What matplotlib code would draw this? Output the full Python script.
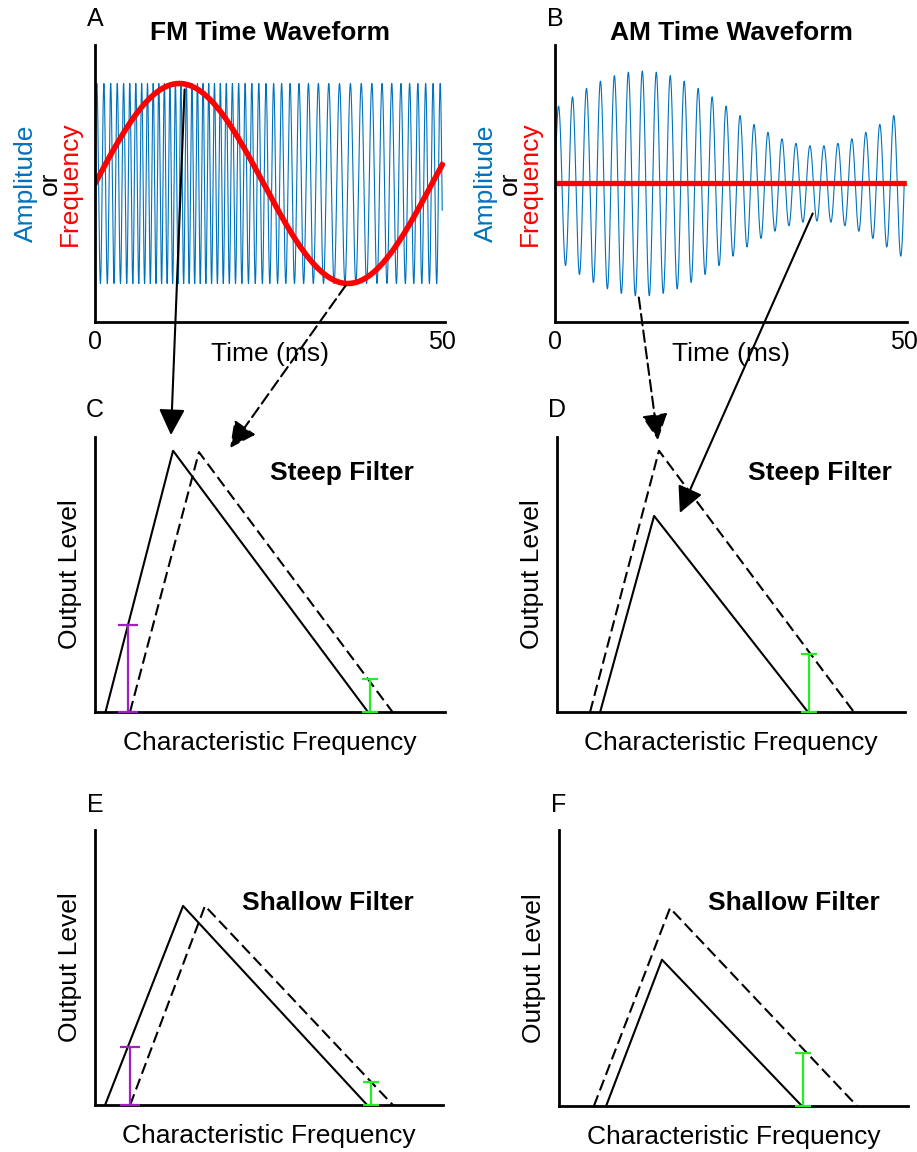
import matplotlib
matplotlib.use("Agg")
import matplotlib.pyplot as plt
import numpy as np
from matplotlib.patches import ConnectionPatch

plt.rcParams['font.family'] = ['Liberation Sans', 'DejaVu Sans']
plt.rcParams['font.size'] = 19

t_range = [0, 50]
fm_carrier_hz = 950
fm_dev_hz = 50
mod_hz = 20.6
am_carrier_hz = 500
am_mod_hz = 20
am_mean = 0.75
am_depth = 0.375

# filter triangles (x = characteristic frequency, y = output level, 0..100)
c_solid_x = [3, 22.3, 78];   c_solid_y = [0, 95, 0]
c_dash_x = [10, 29.7, 85];   c_dash_y = [0, 94.5, 0]
d_solid_x = [12.4, 27.9, 72.1]; d_solid_y = [0, 71.3, 0]
d_dash_x = [9.5, 29.3, 85.3];   d_dash_y = [0, 95, 0]
e_solid_x = [2.9, 25.3, 78.2];  e_solid_y = [0, 72.4, 0]
e_dash_x = [10.1, 31.6, 85.6];  e_dash_y = [0, 72.4, 0]
f_solid_x = [13.5, 29.5, 69.6]; f_solid_y = [0, 53, 0]
f_dash_x = [10, 31.8, 85.4];    f_dash_y = [0, 71.7, 0]

# difference bars: [x, top]
c_purple = [9.5, 31.6];  c_green = [78.6, 12]
d_green = [72.4, 21.1]
e_purple = [10.1, 21];   e_green = [79.3, 8.4]
f_green = [69.9, 19.2]

# arrows: (start t, start y) in waveform panel -> (x, y) in filter panel
arrow_from = [(12.9, 0.94), (36.1, -1.02), (12.0, -1.14), (36.9, -0.30)]
arrow_to = [(21.7, 100.7), (38.6, 96), (29.0, 98.9), (35.3, 72.4)]
arrow_dashed = [False, True, True, False]

BLUE = '#0072BD'
RED = '#FF0000'
PURPLE = '#A020C0'
GREEN = '#22EE22'
DASH = (0, (5.5, 2.5))

W, H = 917, 1152
fig = plt.figure(figsize=(W / 100, H / 100), dpi=100)


def add_ax(l, t, r, b):
    ax = fig.add_axes([l / W, 1 - b / H, (r - l) / W, (b - t) / H])
    ax.spines['top'].set_visible(False)
    ax.spines['right'].set_visible(False)
    ax.spines['left'].set_linewidth(2)
    ax.spines['bottom'].set_linewidth(2)
    return ax


def letter(ax, s, off=13.5):
    ax.annotate(s, xy=(0, 1), xycoords='axes fraction', xytext=(0, off),
                textcoords='offset points', ha='center', va='baseline', fontsize=18)


def wave_axes(ax, title, lab):
    ax.set_xlim(0, 50.4)
    ax.set_ylim(-1.385, 1.385)
    ax.set_xticks(t_range)
    ax.set_yticks([])
    ax.tick_params(axis='x', length=0, pad=6, labelsize=18)
    ax.set_xlabel('Time (ms)')
    ax.xaxis.set_label_coords(0.5, -0.072)
    ax.set_title(title, fontweight='bold', fontsize=19, pad=-1.5)
    letter(ax, lab)
    ax.text(-0.177, 0.5, 'Amplitude', color=BLUE, rotation=90, rotation_mode='anchor',
            ha='center', va='baseline', transform=ax.transAxes)
    ax.text(-0.109, 0.5, 'or', color='black', rotation=90, rotation_mode='anchor',
            ha='center', va='baseline', transform=ax.transAxes)
    ax.text(-0.051, 0.5, 'Frequency', color=RED, rotation=90, rotation_mode='anchor',
            ha='center', va='baseline', transform=ax.transAxes)


def filter_axes(ax, title, lab, tx, ty, off):
    ax.set_xlim(0, 100)
    ax.set_ylim(0, 100)
    ax.set_xticks([])
    ax.set_yticks([])
    ax.set_xlabel('Characteristic Frequency')
    ax.xaxis.set_label_coords(0.5, -0.068)
    ax.set_ylabel('Output Level')
    ax.yaxis.set_label_coords(-0.037, 0.5)
    ax.text(tx, ty, title, fontweight='bold', ha='center', va='baseline')
    letter(ax, lab, off)


def bar(ax, xb, color, cap):
    ax.errorbar([xb[0]], [xb[1] / 2], yerr=[xb[1] / 2], fmt='none', ecolor=color,
                elinewidth=1.6, capsize=cap, capthick=1.6, zorder=3)


t = np.linspace(t_range[0], t_range[1], 20000)
ts = t / 1000.0

# A: FM
axA = add_ax(95, 45, 445, 322)
phase = 2 * np.pi * (fm_carrier_hz * ts - fm_dev_hz / mod_hz * np.cos(2 * np.pi * mod_hz * ts) + fm_dev_hz / mod_hz)
axA.plot(t, np.sin(phase), color=BLUE, lw=0.8)
axA.plot(t, np.sin(2 * np.pi * mod_hz * ts), color=RED, lw=4)
wave_axes(axA, 'FM Time Waveform', 'A')

# B: AM
axB = add_ax(555, 45, 907, 322)
env = am_mean + am_depth * np.sin(2 * np.pi * am_mod_hz * ts)
axB.plot(t, env * np.sin(2 * np.pi * am_carrier_hz * ts), color=BLUE, lw=0.8)
axB.plot(t, np.zeros_like(t), color=RED, lw=3.8)
wave_axes(axB, 'AM Time Waveform', 'B')

# C
axC = add_ax(95, 437, 445, 712)
axC.plot(c_solid_x, c_solid_y, color='black', lw=1.5)
axC.plot(c_dash_x, c_dash_y, color='black', lw=1.5, ls=DASH)
bar(axC, c_purple, PURPLE, 7)
bar(axC, c_green, GREEN, 5.5)
filter_axes(axC, 'Steep Filter', 'C', 70.6, 84.4, 14.5)

# D
axD = add_ax(557, 437, 905, 712)
axD.plot(d_solid_x, d_solid_y, color='black', lw=1.5)
axD.plot(d_dash_x, d_dash_y, color='black', lw=1.5, ls=DASH)
bar(axD, d_green, GREEN, 5.5)
filter_axes(axD, 'Steep Filter', 'D', 75.6, 84.4, 14.5)

# E
axE = add_ax(95, 830, 443, 1105)
axE.plot(e_solid_x, e_solid_y, color='black', lw=1.5)
axE.plot(e_dash_x, e_dash_y, color='black', lw=1.5, ls=DASH)
bar(axE, e_purple, PURPLE, 7)
bar(axE, e_green, GREEN, 5.5)
filter_axes(axE, 'Shallow Filter', 'E', 66.8, 70.9, 13)

# F
axF = add_ax(559, 830, 908, 1106)
axF.plot(f_solid_x, f_solid_y, color='black', lw=1.5)
axF.plot(f_dash_x, f_dash_y, color='black', lw=1.5, ls=DASH)
bar(axF, f_green, GREEN, 5.5)
filter_axes(axF, 'Shallow Filter', 'F', 67.3, 71, 13)

# arrows linking the waveforms to the filter outputs
pairs = [(axA, axC), (axA, axC), (axB, axD), (axB, axD)]
for (src, dst), p0, p1, dashed in zip(pairs, arrow_from, arrow_to, arrow_dashed):
    con = ConnectionPatch(xyA=p0, coordsA=src.transData, xyB=p1, coordsB=dst.transData,
                          arrowstyle='-|>,head_length=0.8,head_width=0.4', mutation_scale=20,
                          shrinkA=0, shrinkB=0, color='black', lw=1.5,
                          ls=DASH if dashed else '-', zorder=5)
    fig.add_artist(con)

fig.savefig('out.png', dpi=100)
